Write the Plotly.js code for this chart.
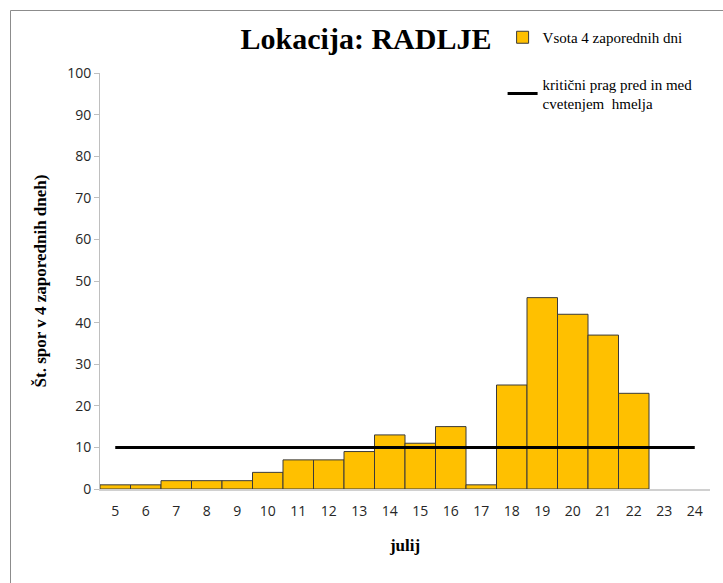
<!DOCTYPE html>
<html>
<head>
<meta charset="utf-8">
<script src="https://cdn.plot.ly/plotly-3.0.1.min.js"></script>
<style>
html,body{margin:0;padding:0;background:#fff;overflow:hidden;}
#chart{width:723px;height:583px;}
</style>
</head>
<body>
<div id="chart"></div>
<script>
// Data
const days = [5,6,7,8,9,10,11,12,13,14,15,16,17,18,19,20,21,22,23,24];
const sums = [1,1,2,2,2,4,7,7,9,13,11,15,1,25,46,42,37,23,null,null];
const threshold = [10,10,10,10,10,10,10,10,10,10,10,10,10,10,10,10,10,10,10,10];
const barName = 'Vsota 4 zaporednih dni';
const lineName = 'kritični prag pred in med<br>cvetenjem  hmelja';
const titleText = 'Lokacija: RADLJE';
const yTitle = 'Št. spor v 4 zaporednih dneh)';
const xTitle = 'julij';

const serif = "'Times New Roman', 'Liberation Serif', serif";
const sans = "'Open Sans', 'Liberation Sans', sans-serif";

const traces = [
  {type:'bar', x:days, y:sums, name:barName, width:1,
   marker:{color:'#FFC000', line:{color:'#3a3a3a', width:1}},
   legendgroup:'a'},
  {type:'scatter', mode:'lines', x:days, y:threshold, name:lineName,
   line:{color:'#000', width:3}, legendgroup:'b'}
];

const layout = {
  width:723, height:583,
  margin:{l:100, r:13, t:73, b:94},
  paper_bgcolor:'#fff', plot_bgcolor:'#fff',
  font:{family:serif},
  title:{text:titleText, font:{family:serif, size:30, color:'#000', weight:'bold'},
         x:366/723, xanchor:'center', y:1-38/583, yanchor:'middle', xref:'container', yref:'container'},
  showlegend:true,
  legend:{x:0.66, y:1.125, xanchor:'left', yanchor:'top', bgcolor:'rgba(0,0,0,0)',
          font:{family:serif, size:15, color:'#000'}, tracegroupgap:24,
          traceorder:'grouped', itemwidth:30},
  bargap:0,
  shapes:[{type:'rect', xref:'paper', yref:'paper', x0:(10.5-100)/610, x1:1.2,
           y0:-0.4, y1:(489-10.5)/416, line:{color:'#8c8c8c', width:1}, fillcolor:'rgba(0,0,0,0)',
           layer:'above'}],
  xaxis:{range:[4.5,24.5], tickmode:'array', tickvals:days, ticktext:days.map(String),
         showgrid:false, zeroline:false, showline:true, linecolor:'#d0d0d0', linewidth:2,
         ticks:'', tickfont:{family:sans, size:14, color:'#262626'}, ticklabelstandoff:8,
         title:{text:xTitle, font:{family:serif, size:17, color:'#000', weight:'bold'}, standoff:20},
         fixedrange:true},
  yaxis:{range:[0,100], tickmode:'array', tickvals:[0,10,20,30,40,50,60,70,80,90,100],
         showgrid:false, zeroline:false, showline:true, linecolor:'#bfbfbf', linewidth:1,
         ticks:'outside', ticklen:5, tickcolor:'#bfbfbf',
         tickfont:{family:sans, size:14, color:'#262626'},
         title:{text:yTitle, font:{family:serif, size:17, color:'#000', weight:'bold'}, standoff:16},
         fixedrange:true}
};

Plotly.newPlot('chart', traces, layout, {displayModeBar:false, staticPlot:true});
</script>
</body>
</html>
